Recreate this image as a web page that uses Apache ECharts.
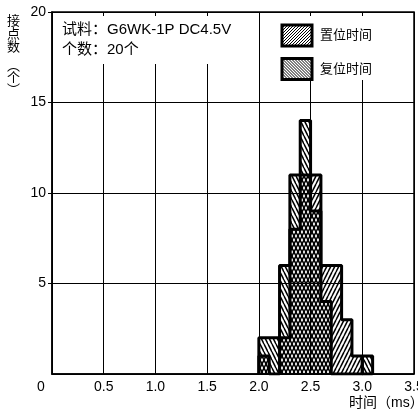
<!DOCTYPE html>
<html>
<head>
<meta charset="utf-8">
<script src="https://cdn.jsdelivr.net/npm/echarts@6/dist/echarts.min.js"></script>
<style>
html,body{margin:0;padding:0;background:#fff;}
#chart{width:418px;height:412px;}
</style>
</head>
<body>
<div id="chart"></div>
<script>
// ---- data ----
const binStarts = [2.0, 2.1, 2.2, 2.3, 2.4, 2.5, 2.6, 2.7, 2.8, 2.9, 3.0];
const binWidth = 0.1;
const setTime = [1, 0, 2, 8, 11, 11, 6, 6, 3, 1, 0];     // 置位时间
const resetTime = [2, 2, 6, 11, 14, 9, 4, 0, 0, 0, 1];   // 复位时间
const seriesNames = ['置位时间', '复位时间'];
const xTicks = [0, 0.5, 1.0, 1.5, 2.0, 2.5, 3.0, 3.5];
const yTicks = [0, 5, 10, 15, 20];
const noteLines = ['试料：G6WK-1P DC4.5V', '个数：20个'];
const xName = '时间（ms）';
const yNameTop = '接\n点\n数';
const yNameBottom = '︵\n个\n︶';

const LATIN = '"Liberation Sans", Arial, "Noto Sans CJK SC", sans-serif';
const CJK = '"Liberation Sans", "Noto Sans CJK SC", sans-serif';

function hatch(dir, w, h, lw) {
  const c = document.createElement('canvas');
  c.width = w; c.height = h;
  const g = c.getContext('2d');
  g.strokeStyle = '#000';
  g.lineWidth = lw;
  for (let k = -1; k <= 1; k++) {
    g.beginPath();
    if (dir > 0) { g.moveTo(k * w, h); g.lineTo(k * w + w, 0); }
    else { g.moveTo(k * w, 0); g.lineTo(k * w + w, h); }
    g.stroke();
  }
  return c;
}
const patA = { image: hatch(1, 4, 8, 1.5), repeat: 'repeat' };
const patB = { image: hatch(-1, 4, 8, 1.5), repeat: 'repeat' };
const legA = { image: hatch(1, 3, 3, 1), repeat: 'repeat' };
const legB = { image: hatch(-1, 3, 3, 1), repeat: 'repeat' };

function stepData(vals) {
  const d = [[binStarts[0], 0]];
  for (let i = 0; i < vals.length; i++) d.push([binStarts[i], vals[i]]);
  d.push([binStarts[binStarts.length - 1] + binWidth, 0]);
  return d;
}

const chart = echarts.init(document.getElementById('chart'), null, { renderer: 'canvas' });
chart.setOption({
  animation: false,
  grid: { left: 52, right: 4, top: 12, bottom: 38, show: true, borderColor: '#000', borderWidth: 1.5, backgroundColor: 'transparent', containLabel: false, outerBoundsMode: 'none' },
  xAxis: {
    type: 'value', min: xTicks[0], max: xTicks[xTicks.length - 1], interval: 0.5,
    axisLine: { lineStyle: { color: '#000', width: 1.5 } },
    axisTick: { show: false },
    splitLine: { show: true, lineStyle: { color: '#000', width: 1 } },
    axisLabel: {
      color: '#000', fontSize: 14, fontFamily: LATIN, margin: 6, hideOverlap: false,
      formatter: v => v === 0 ? '{z|0}' : v.toFixed(1),
      rich: { z: { fontSize: 14, fontFamily: LATIN, color: '#000', padding: [0, 22, 0, 0] } }
    }
  },
  yAxis: {
    type: 'value', min: yTicks[0], max: yTicks[yTicks.length - 1], interval: 5,
    axisLine: { show: true, lineStyle: { color: '#000', width: 1.5 } },
    axisTick: { show: true, length: 4, lineStyle: { color: '#000', width: 1 } },
    splitLine: { show: true, lineStyle: { color: '#000', width: 1 } },
    axisLabel: { color: '#000', fontSize: 14, fontFamily: LATIN, margin: 6, showMinLabel: false }
  },
  legend: {
    orient: 'vertical', left: 280.5, top: 23.5, padding: 0,
    itemWidth: 30, itemHeight: 21, itemGap: 9.5,
    textStyle: { color: '#000', fontSize: 13, fontFamily: CJK, padding: [0, 0, 0, 3] },
    data: [
      { name: seriesNames[0], icon: 'rect', itemStyle: { color: legA, borderColor: '#000', borderWidth: 3 } },
      { name: seriesNames[1], icon: 'rect', itemStyle: { color: legB, borderColor: '#000', borderWidth: 3 } }
    ]
  },
  graphic: [
    { type: 'rect', z: 1, silent: true, shape: { x: 54, y: 16, width: 198, height: 48 }, style: { fill: '#fff' } },
    { type: 'rect', z: 1, silent: true, shape: { x: 272, y: 16, width: 140, height: 64 }, style: { fill: '#fff' } },
    { type: 'text', z: 5, left: 62, top: 22, style: { text: noteLines[0], fill: '#000', font: '15px ' + CJK } },
    { type: 'text', z: 5, left: 62, top: 42, style: { text: noteLines[1], fill: '#000', font: '15px ' + CJK } },
    { type: 'text', z: 5, left: 349, top: 396, style: { text: xName, fill: '#000', font: '14px ' + CJK } },
    { type: 'text', z: 5, left: 7, top: 14, style: { text: yNameTop, fill: '#000', font: '13px "Noto Sans CJK SC", sans-serif', lineHeight: 13 } },
    { type: 'text', z: 5, left: 7, top: 59, style: { text: yNameBottom, fill: '#000', font: '13px "Noto Sans CJK SC", sans-serif', lineHeight: 12 } }
  ],
  series: [
    {
      name: seriesNames[0], type: 'line', step: 'end', data: stepData(setTime),
      symbol: 'none', z: 2,
      lineStyle: { color: '#000', width: 3 },
      itemStyle: { color: '#000' },
      areaStyle: { color: patA, opacity: 1 }
    },
    {
      name: seriesNames[1], type: 'line', step: 'end', data: stepData(resetTime),
      symbol: 'none', z: 3,
      lineStyle: { color: '#000', width: 3 },
      itemStyle: { color: '#000' },
      areaStyle: { color: patB, opacity: 1 }
    }
  ]
});
</script>
</body>
</html>
